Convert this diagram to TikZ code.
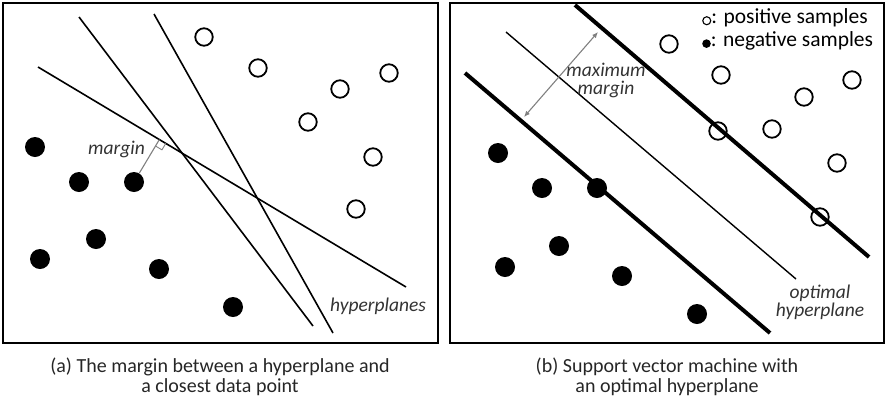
\documentclass[tikz,border=0pt]{standalone}
\usepackage{fontspec}
\setmainfont{Carlito}
\usetikzlibrary{calc,arrows.meta}
\begin{document}
\begin{tikzpicture}[x=1pt,y=-1pt,
  posdot/.style={circle,draw=black,line width=1.8pt,minimum size=17.5pt,inner sep=0pt},
  negdot/.style={circle,fill=black,minimum size=20pt,inner sep=0pt},
  hp/.style={line width=1.6pt},
  thickhp/.style={line width=4pt},
  frame/.style={line width=2.8pt},
  guide/.style={draw=black!50,line width=1.1pt},
  lbl/.style={font=\itshape\fontsize{19.5}{18}\selectfont,text=black!80,inner sep=0pt},
  captext/.style={font=\fontsize{20}{20.5}\selectfont,align=center,text=black!85,inner sep=0pt},
  legtext/.style={font=\fontsize{21.5}{22}\selectfont,text=black,anchor=west,inner sep=0pt}]
\useasboundingbox (0,0) rectangle (886,400);
% frames
\draw[frame] (3,3) rectangle (438,343);
\draw[frame] (450,3) rectangle (884,343);

% ---------- left panel ----------
\coordinate (L1a) at (79,17);   \coordinate (L1b) at (313,326);
\coordinate (L2a) at (154,14);  \coordinate (L2b) at (333,333);
\coordinate (L3a) at (38,67);   \coordinate (L3b) at (406,287);
\draw[hp] (L1a) -- (L1b);
\draw[hp] (L2a) -- (L2b);
\draw[hp] (L3a) -- (L3b);

\node[posdot] (ap1) at (204,37) {};
\node[posdot] (ap2) at (258,68) {};
\node[posdot] (ap3) at (389,73) {};
\node[posdot] (ap4) at (340,89) {};
\node[posdot] (ap5) at (308,122) {};
\node[posdot] (ap6) at (373,157) {};
\node[posdot] (ap7) at (356,209) {};

\node[negdot] (an1) at (35,147) {};
\node[negdot] (an2) at (79,182) {};
\node[negdot] (an3) at (134,182) {};
\node[negdot] (an4) at (96,239) {};
\node[negdot] (an5) at (40,259) {};
\node[negdot] (an6) at (159,269) {};
\node[negdot] (an7) at (233,307) {};

% margin
\coordinate (foot) at ($(L3a)!(an3)!(L3b)$);
\coordinate (sqA) at ($(foot)!7.5pt!(L3b)$);
\coordinate (sqB) at ($(foot)!7.5pt!(an3)$);
\draw[guide] (an3) -- (foot);
\draw[guide,line width=0.9pt] (sqB) -- ($(sqA)+(sqB)-(foot)$) -- (sqA);
\node[lbl,anchor=east] (marginlbl) at (145,149) {margin};
\node[lbl,anchor=west] (hyplbl) at (330,306) {hyperplanes};

% ---------- right panel ----------
\coordinate (U1) at (575,5);   \coordinate (U2) at (869,257);
\coordinate (M1) at (506,32);  \coordinate (M2) at (796,279);
\coordinate (D1) at (465,73);  \coordinate (D2) at (770,333);
\draw[thickhp] (U1) -- (U2);
\draw[hp,line width=1.4pt] (M1) -- (M2);
\draw[thickhp] (D1) -- (D2);

\coordinate (arA) at (524,117);
\coordinate (arB) at (598,32);
\draw[draw=black!50,line width=1.1pt,{Latex[length=6pt,width=5pt]}-{Latex[length=6pt,width=5pt]}] (arA) -- (arB);
\node[lbl,align=center] (maxlbl) at (606,80) {maximum\\margin};
\node[lbl,align=center] (optlbl) at (820,302) {optimal\\hyperplane};

\node[posdot] (bp1) at (669,44) {};
\node[posdot] (bp2) at (721,75) {};
\node[posdot] (bp3) at (852,80) {};
\node[posdot] (bp4) at (804,97) {};
\node[posdot] (bp5) at (772,129) {};
\node[posdot] (bp6) at (718,131) {};
\node[posdot] (bp7) at (837,163) {};
\node[posdot] (bp8) at (820,217) {};

\node[negdot] (bn1) at (498,153) {};
\node[negdot] (bn2) at (542,188) {};
\node[negdot] (bn3) at (597,188) {};
\node[negdot] (bn4) at (559,246) {};
\node[negdot] (bn5) at (505,267) {};
\node[negdot] (bn6) at (622,276) {};
\node[negdot] (bn7) at (697,314) {};

% legend
\node[legtext] (legpos) at (702,18) {\tikz[baseline=-3pt]\draw[line width=1.1pt] (0,0) circle (4pt);: positive samples};
\node[legtext] (legneg) at (702,41) {\tikz[baseline=-3pt]\fill (0,0) circle (4.3pt);: negative samples};

% captions
\node[captext] (capa) at (220,377) {(a) The margin between a hyperplane and\\a closest data point};
\node[captext] (capb) at (667,377) {(b) Support vector machine with\\an optimal hyperplane};
\end{tikzpicture}
\end{document}
